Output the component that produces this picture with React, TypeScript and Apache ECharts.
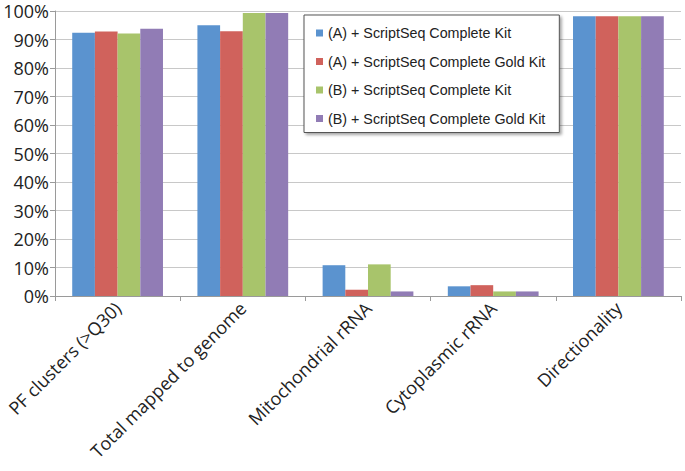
import React, { useEffect, useRef } from "react";
import * as echarts from "echarts";

const categories = [
  "PF clusters (>Q30)",
  "Total mapped to genome",
  "Mitochondrial rRNA",
  "Cytoplasmic rRNA",
  "Directionality",
];
const seriesNames = [
  "(A) + ScriptSeq Complete Kit",
  "(A) + ScriptSeq Complete Gold Kit",
  "(B) + ScriptSeq Complete Kit",
  "(B) + ScriptSeq Complete Gold Kit",
];
const aComplete = [92.4, 95.0, 10.8, 3.4, 98.2];
const aGold = [92.8, 92.9, 2.2, 3.8, 98.2];
const bComplete = [92.1, 99.3, 11.1, 1.6, 98.2];
const bGold = [93.8, 99.3, 1.6, 1.6, 98.2];
const colors = ["#5b93cf", "#d0625c", "#a8c46b", "#917cb5"];

export default function App() {
  const ref = useRef<HTMLDivElement>(null);
  useEffect(() => {
    if (!ref.current) return;
    const chart = echarts.init(ref.current, null, { renderer: "svg" });
    const values = [aComplete, aGold, bComplete, bGold];
    chart.setOption({
      animation: false,
      grid: { left: 55, right: 4, top: 11, bottom: 175, containLabel: false },
      legend: {
        orient: "vertical",
        left: 304,
        top: 15,
        padding: [11, 14, 7, 12],
        itemWidth: 7,
        itemHeight: 7,
        itemGap: 14.5,
        icon: "rect",
        backgroundColor: "#ffffff",
        borderColor: "#555555",
        borderWidth: 1,
        shadowColor: "rgba(0,0,0,0.35)",
        shadowBlur: 3,
        shadowOffsetX: 2,
        shadowOffsetY: 2,
        textStyle: {
          fontFamily: "Liberation Sans",
          fontSize: 14.3,
          color: "#222",
          lineHeight: 14,
          padding: [0, 0, 0, 0],
        },
        data: seriesNames,
      },
      xAxis: {
        type: "category",
        data: categories,
        axisLine: { lineStyle: { color: "#9a9a9a" } },
        axisTick: { show: true, length: 5, lineStyle: { color: "#9a9a9a" } },
        axisLabel: {
          rotate: 45,
          margin: 9,
          fontFamily: "Open Sans",
          fontSize: 18,
          color: "#222",
          interval: 0,
        },
      },
      yAxis: {
        type: "value",
        min: 0,
        max: 100,
        interval: 10,
        axisLine: { show: true, lineStyle: { color: "#9a9a9a" } },
        axisTick: { show: true, length: 5, lineStyle: { color: "#9a9a9a" } },
        splitLine: { lineStyle: { color: "#c8c8c8" } },
        axisLabel: {
          formatter: "{value}%",
          margin: 6,
          fontFamily: "Open Sans",
          fontSize: 18,
          lineHeight: 18,
          color: "#222",
        },
      },
      series: seriesNames.map((name, i) => ({
        name,
        type: "bar",
        data: values[i],
        itemStyle: { color: colors[i] },
        barGap: "0%",
        barCategoryGap: "27.5%",
      })),
    });
    return () => chart.dispose();
  }, []);
  return <div ref={ref} style={{ width: 685, height: 471, position: "absolute", left: 0, top: 0 }} />;
}
